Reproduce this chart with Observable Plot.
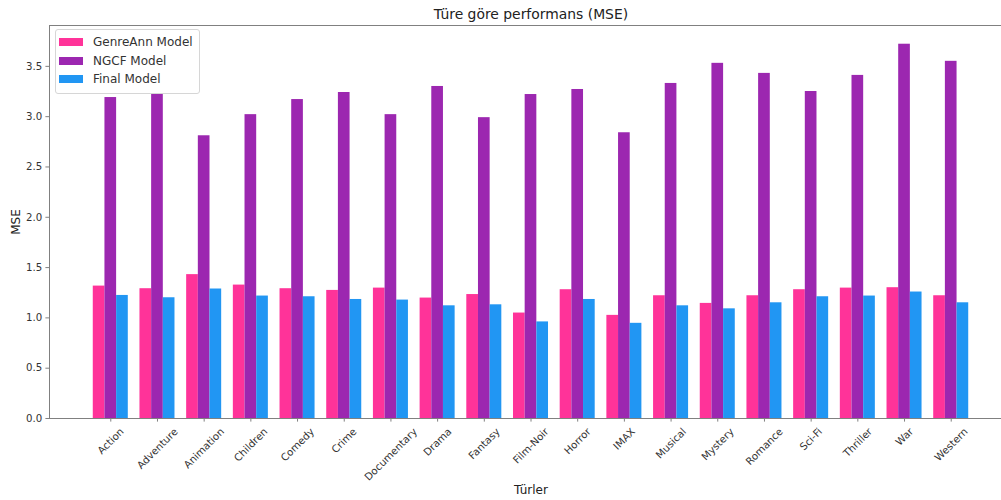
<!DOCTYPE html>
<html>
<head>
<meta charset="utf-8">
<script src="https://cdn.jsdelivr.net/npm/d3@7"></script>
<script src="https://cdn.jsdelivr.net/npm/@observablehq/plot@0.6"></script>
<style>
  html, body { margin: 0; padding: 0; background: #fff; overflow: hidden; }
  #wrap { position: relative; width: 1001px; height: 500px; font-family: "DejaVu Sans", sans-serif; }
  #legend {
    position: absolute; left: 55px; top: 29px; width: 137px;
    padding: 3px 3px 4px 3px; border: 1px solid #d6d6d6; border-radius: 3px;
    background: rgba(255,255,255,0.85); font-size: 12px; color: #333;
  }
  #legend .row { display: flex; align-items: center; height: 18.5px; white-space: nowrap; }
  #legend .sw { width: 24px; height: 8.4px; margin-right: 10px; flex: none; }
</style>
</head>
<body>
<div id="wrap"><div id="legend"></div></div>
<script>
const genres = ["Action","Adventure","Animation","Children","Comedy","Crime","Documentary","Drama","Fantasy","Film-Noir","Horror","IMAX","Musical","Mystery","Romance","Sci-Fi","Thriller","War","Western"];
const genreAnn = [1.316,1.29,1.43,1.326,1.29,1.273,1.296,1.197,1.232,1.048,1.28,1.025,1.22,1.144,1.22,1.28,1.296,1.30,1.22];
const ngcf     = [3.19,3.23,2.81,3.02,3.17,3.24,3.02,3.30,2.99,3.22,3.27,2.84,3.33,3.53,3.43,3.25,3.41,3.72,3.55];
const finalM   = [1.223,1.20,1.287,1.217,1.21,1.183,1.177,1.12,1.13,0.96,1.183,0.946,1.12,1.09,1.15,1.21,1.217,1.257,1.15];
const models = ["GenreAnn Model","NGCF Model","Final Model"];
const colors = ["#ff3399","#9c27b0","#2196f3"];
const yTicks = [0,0.5,1.0,1.5,2.0,2.5,3.0,3.5];
const title = "Türe göre performans (MSE)";
const xLabel = "Türler";
const yLabel = "MSE";

const bw = 0.25;
const series = [genreAnn, ngcf, finalM];
const rows = genres.flatMap((g, i) => series.map((arr, k) => ({genre: g, i, k, model: models[k], value: arr[i]})));

const lo = -1.5 * bw, hi = genres.length - 1 + 1.5 * bw;
const pad = 0.05 * (hi - lo);
const yMax = d3.max(rows, d => d.value) * 1.05;

const tickFont = 10.2;
const ctx = document.createElement("canvas").getContext("2d");
ctx.font = `${tickFont}px "DejaVu Sans"`;

const labelMarks = genres.map((g, i) => {
  const L = ctx.measureText(g).width;
  return Plot.text([i], {
    x: d => d, frameAnchor: "bottom", text: () => g,
    rotate: -45, textAnchor: "middle", lineAnchor: "middle",
    dy: 7.2 + (L + 1.17 * tickFont) * 0.3536,
    fontSize: tickFont, fill: "#333"
  });
});

const chart = Plot.plot({
  width: 1001, height: 500,
  marginLeft: 49, marginRight: -11, marginTop: 25, marginBottom: 82,
  style: {fontFamily: "DejaVu Sans", overflow: "hidden", background: "#fff"},
  x: {type: "linear", domain: [lo - pad, hi + pad], label: null},
  y: {domain: [0, yMax], label: null},
  color: {domain: models, range: colors},
  marks: [
    Plot.rectY(rows, {
      x1: d => d.i + (d.k - 1) * bw - bw / 2,
      x2: d => d.i + (d.k - 1) * bw + bw / 2,
      y: "value", fill: "model"
    }),
    Plot.frame({stroke: "#808080", strokeWidth: 1}),
    Plot.axisY(yTicks, {tickSize: 3.6, tickPadding: 3.6, tickFormat: d3.format(".1f"), fontSize: tickFont, stroke: "#808080", fill: "#333", label: null}),
    Plot.axisX(d3.range(genres.length), {tickSize: 3.6, tickFormat: () => "", stroke: "#808080", label: null}),
    ...labelMarks,
    Plot.text([title], {frameAnchor: "top", lineAnchor: "middle", dy: -11, fontSize: 13.9, fill: "#222"}),
    Plot.text([xLabel], {frameAnchor: "bottom", lineAnchor: "middle", dy: 72, fontSize: 12, fill: "#222"}),
    Plot.text([yLabel], {frameAnchor: "left", lineAnchor: "middle", textAnchor: "middle", dx: -33, rotate: -90, fontSize: 12, fill: "#222"})
  ]
});
document.getElementById("wrap").prepend(chart);

const legend = document.getElementById("legend");
models.forEach((m, k) => {
  const row = document.createElement("div");
  row.className = "row";
  const sw = document.createElement("span");
  sw.className = "sw";
  sw.style.background = colors[k];
  const t = document.createElement("span");
  t.textContent = m;
  row.append(sw, t);
  legend.append(row);
});
</script>
</body>
</html>
